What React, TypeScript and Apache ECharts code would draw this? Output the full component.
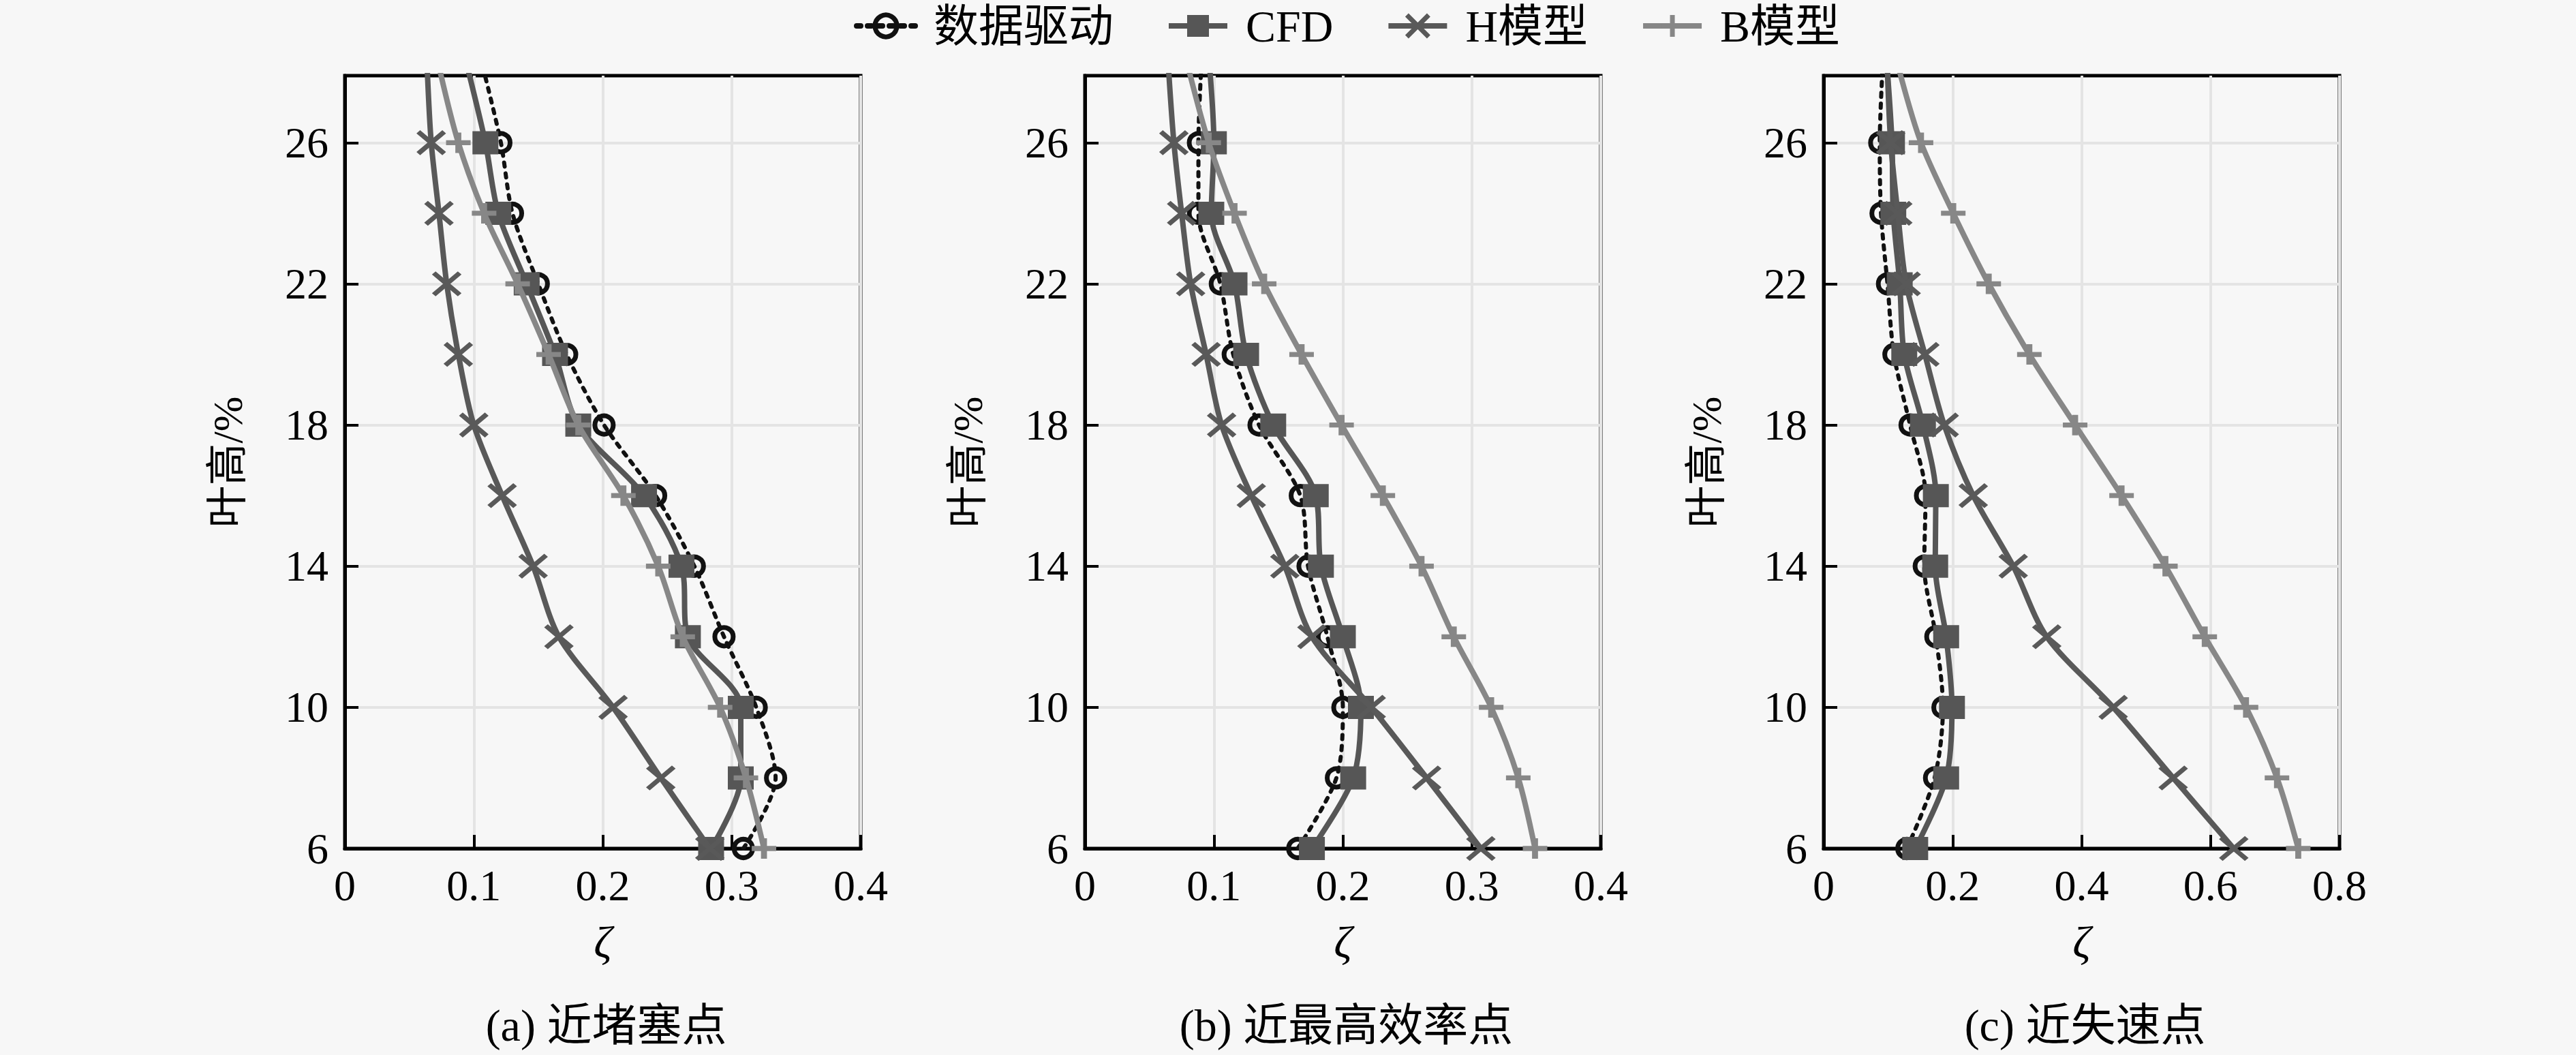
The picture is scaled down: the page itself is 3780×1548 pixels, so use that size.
import React, { useEffect, useRef } from "react";
import * as echarts from "echarts";

// ---------- data ----------
const heights = [6, 8, 10, 12, 14, 16, 18, 20, 22, 24, 26, 28];
const seriesNames = ["数据驱动", "CFD", "H模型", "B模型"];
const panelTitles = ["(a) 近堵塞点", "(b) 近最高效率点", "(c) 近失速点"];
const yTickValues = [6, 10, 14, 18, 22, 26];

// (a) near choke
const chokeDataDriven = [0.309, 0.334, 0.319, 0.294, 0.271, 0.241, 0.201, 0.172, 0.15, 0.13, 0.121, 0.108];
const chokeCFD = [0.284, 0.307, 0.307, 0.266, 0.261, 0.232, 0.181, 0.163, 0.141, 0.119, 0.109, 0.096];
const chokeH = [0.283, 0.245, 0.208, 0.166, 0.146, 0.122, 0.1, 0.088, 0.079, 0.073, 0.067, 0.064];
const chokeB = [0.325, 0.311, 0.291, 0.262, 0.243, 0.216, 0.181, 0.158, 0.134, 0.108, 0.088, 0.074];

// (b) near peak efficiency
const peakDataDriven = [0.165, 0.195, 0.2, 0.188, 0.173, 0.167, 0.135, 0.115, 0.105, 0.088, 0.088, 0.09];
const peakCFD = [0.176, 0.208, 0.214, 0.2, 0.183, 0.179, 0.146, 0.125, 0.116, 0.098, 0.1, 0.097];
const peakH = [0.307, 0.265, 0.222, 0.176, 0.155, 0.129, 0.106, 0.094, 0.082, 0.075, 0.069, 0.065];
const peakB = [0.349, 0.336, 0.315, 0.286, 0.261, 0.231, 0.199, 0.168, 0.139, 0.116, 0.096, 0.081];

// (c) near stall
const stallDataDriven = [0.129, 0.172, 0.185, 0.174, 0.156, 0.158, 0.134, 0.109, 0.099, 0.089, 0.087, 0.091];
const stallCFD = [0.142, 0.19, 0.199, 0.19, 0.173, 0.174, 0.154, 0.125, 0.118, 0.108, 0.106, 0.099];
const stallH = [0.636, 0.542, 0.449, 0.346, 0.294, 0.232, 0.187, 0.157, 0.128, 0.115, 0.104, 0.099];
const stallB = [0.736, 0.703, 0.655, 0.591, 0.53, 0.462, 0.39, 0.319, 0.256, 0.201, 0.151, 0.118];

const panelData = [
  [chokeDataDriven, chokeCFD, chokeH, chokeB],
  [peakDataDriven, peakCFD, peakH, peakB],
  [stallDataDriven, stallCFD, stallH, stallB],
];
const xMaxes = [0.4, 0.4, 0.8];
const xIntervals = [0.1, 0.1, 0.2];

// ---------- styles ----------
const FONT = "Liberation Serif, Times New Roman, Noto Sans CJK SC, serif";
const BG = "#f7f7f7";
const X_PATH = "path://M0,0L10,10M10,0L0,10";
const PLUS_PATH = "path://M5,0L5,10M0,5L10,5";

const seriesStyles = [
  {
    lineStyle: { color: "#111", width: 6, type: [6, 10] as any, cap: "round" },
    symbol: "circle",
    symbolSize: 27,
    itemStyle: { color: "rgba(0,0,0,0)", borderColor: "#111", borderWidth: 7 },
  },
  {
    lineStyle: { color: "#565656", width: 8 },
    symbol: "rect",
    symbolSize: [38, 34],
    itemStyle: { color: "#565656", borderWidth: 0 },
  },
  {
    lineStyle: { color: "#595959", width: 8 },
    symbol: X_PATH,
    symbolSize: [38, 32],
    itemStyle: { color: "#595959", borderColor: "#595959", borderWidth: 7 },
  },
  {
    lineStyle: { color: "#878787", width: 8 },
    symbol: PLUS_PATH,
    symbolSize: [36, 30],
    itemStyle: { color: "#878787", borderColor: "#878787", borderWidth: 8 },
  },
];

const gridLefts = [506, 1592, 2676];
const GRID_W = 757;
const GRID_TOP = 111;
const GRID_H = 1134;

export default function App() {
  const ref = useRef<HTMLDivElement>(null);

  useEffect(() => {
    if (!ref.current) return;
    const chart = echarts.init(ref.current, null, { renderer: "svg" });

    const grids = gridLefts.map((left) => ({
      left,
      top: GRID_TOP,
      width: GRID_W,
      height: GRID_H,
      show: true,
      borderColor: "#000",
      borderWidth: 5,
      backgroundColor: "transparent",
    }));

    const xAxes = gridLefts.map((_, i) => ({
      type: "value",
      gridIndex: i,
      min: 0,
      max: xMaxes[i],
      interval: xIntervals[i],
      name: "ζ",
      nameLocation: "middle",
      nameGap: 104,
      nameTextStyle: { fontFamily: FONT, fontSize: 66, fontStyle: "italic", color: "#000" },
      axisLine: { show: true, onZero: false, lineStyle: { color: "#000", width: 5 } },
      axisTick: { show: true, inside: true, length: 20, lineStyle: { color: "#000", width: 4 } },
      axisLabel: { fontFamily: FONT, fontSize: 64, color: "#000", margin: 22 },
      splitLine: { show: true, lineStyle: { color: "#e4e4e4", width: 4 } },
    }));

    const yAxes = gridLefts.map((_, i) => ({
      type: "value",
      gridIndex: i,
      min: 6,
      max: 27.9,
      name: "叶高/%",
      nameLocation: "middle",
      nameGap: 141,
      nameTextStyle: { fontFamily: FONT, fontSize: 62, color: "#000" },
      axisLine: { show: true, onZero: false, lineStyle: { color: "#000", width: 5 } },
      axisTick: {
        show: true,
        inside: true,
        length: 20,
        customValues: yTickValues,
        lineStyle: { color: "#000", width: 4 },
      },
      axisLabel: {
        fontFamily: FONT,
        fontSize: 64,
        color: "#000",
        margin: 24,
        customValues: yTickValues,
      },
      splitLine: { show: true, lineStyle: { color: "#e4e4e4", width: 4 } },
    }));

    const series: any[] = [];
    panelData.forEach((group, pi) => {
      group.forEach((vals, si) => {
        const st = seriesStyles[si];
        series.push({
          type: "line",
          name: seriesNames[si],
          xAxisIndex: pi,
          yAxisIndex: pi,
          data: heights.map((h, k) => [vals[k], h]),
          smooth: 0.3,
          clip: true,
          showSymbol: true,
          symbol: st.symbol,
          symbolSize: st.symbolSize,
          lineStyle: st.lineStyle,
          itemStyle: st.itemStyle,
          z: 2 + si,
          emphasis: { disabled: true },
        });
      });
    });

    const titles = panelTitles.map((t, i) => ({
      text: t,
      left: gridLefts[i] + GRID_W / 2,
      top: 1466,
      textAlign: "center",
      textStyle: { fontFamily: FONT, fontSize: 66, fontWeight: "normal", color: "#000" },
    }));

    chart.setOption({
      animation: false,
      backgroundColor: BG,
      title: titles,
      legend: {
        data: seriesNames,
        left: 1248,
        top: 0,
        itemWidth: 86,
        itemHeight: 40,
        itemGap: 77,
        lineStyle: { width: 8 },
        itemStyle: { borderWidth: 7 },
        textStyle: { fontFamily: FONT, fontSize: 66, color: "#000", padding: [0, 0, 0, 22] },
      },
      grid: grids,
      xAxis: xAxes,
      yAxis: yAxes,
      series,
    });

    return () => chart.dispose();
  }, []);

  return (
    <div
      ref={ref}
      style={{ position: "fixed", left: 0, top: 0, width: "3780px", height: "1548px" }}
    />
  );
}
